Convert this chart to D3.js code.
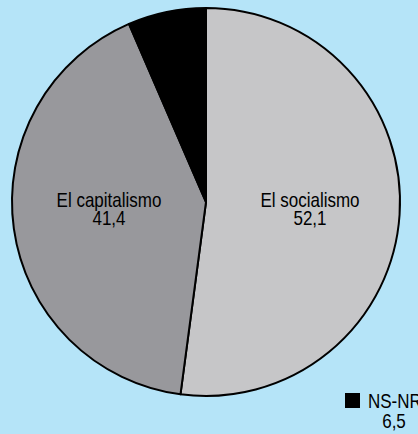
<!DOCTYPE html>
<html>
<head>
<meta charset="utf-8">
<script src="https://cdn.jsdelivr.net/npm/d3@7"></script>
<style>
  html, body { margin: 0; padding: 0; background: #b5e4f8; }
  svg { display: block; }
  text { font-family: "Liberation Sans", Arial, sans-serif; font-size: 20px; fill: #000; }
</style>
</head>
<body>
<svg width="418" height="434"></svg>
<script>
"use strict";

// Values
const categories = ["El socialismo", "El capitalismo", "NS-NR"];
const values = [52.1, 41.4, 6.5];
const valueLabels = ["52,1", "41,4", "6,5"];
const colors = ["#c6c6c8", "#98989c", "#000000"];

const width = 418, height = 434;
const cx = 206, cy = 202, radius = 194;
const squeeze = 0.85; // the print uses a condensed face

const data = categories.map((c, i) => ({ name: c, value: values[i], label: valueLabels[i], color: colors[i] }));

const svg = d3.select("svg");
const g = svg.append("g").attr("transform", `translate(${cx},${cy})`);

const pie = d3.pie().sort(null).value(d => d.value);
const arc = d3.arc().innerRadius(0).outerRadius(radius);

g.selectAll("path")
  .data(pie(data))
  .enter()
  .append("path")
  .attr("d", arc)
  .attr("fill", d => d.data.color)
  .attr("stroke", "#000")
  .attr("stroke-width", 2)
  .attr("stroke-linejoin", "round");

// Inside labels for the two big slices (placed level, as in the print)
const labelPos = { "El socialismo": [104, 0], "El capitalismo": [-97, 0] };
const inside = g.selectAll("text.lbl")
  .data(data.filter(d => labelPos[d.name]))
  .enter()
  .append("text")
  .attr("class", "lbl")
  .attr("transform", d => `translate(${labelPos[d.name][0]},${labelPos[d.name][1]}) scale(${squeeze},1)`)
  .attr("text-anchor", "middle");
inside.append("tspan").attr("x", 0).attr("y", 5).text(d => d.name);
inside.append("tspan").attr("x", 0).attr("y", 23).text(d => d.label);

// Legend for the small slice
const small = data[2];
const legend = svg.append("g").attr("transform", "translate(345,393)");
legend.append("rect").attr("width", 15).attr("height", 15).attr("fill", small.color);
const lt = legend.append("text").attr("transform", `translate(23,0) scale(${squeeze},1)`);
lt.append("tspan").attr("x", 0).attr("y", 15).text(small.name);
lt.append("tspan").attr("x", 26 / squeeze).attr("y", 35).attr("text-anchor", "middle").text(small.label);
</script>
</body>
</html>
